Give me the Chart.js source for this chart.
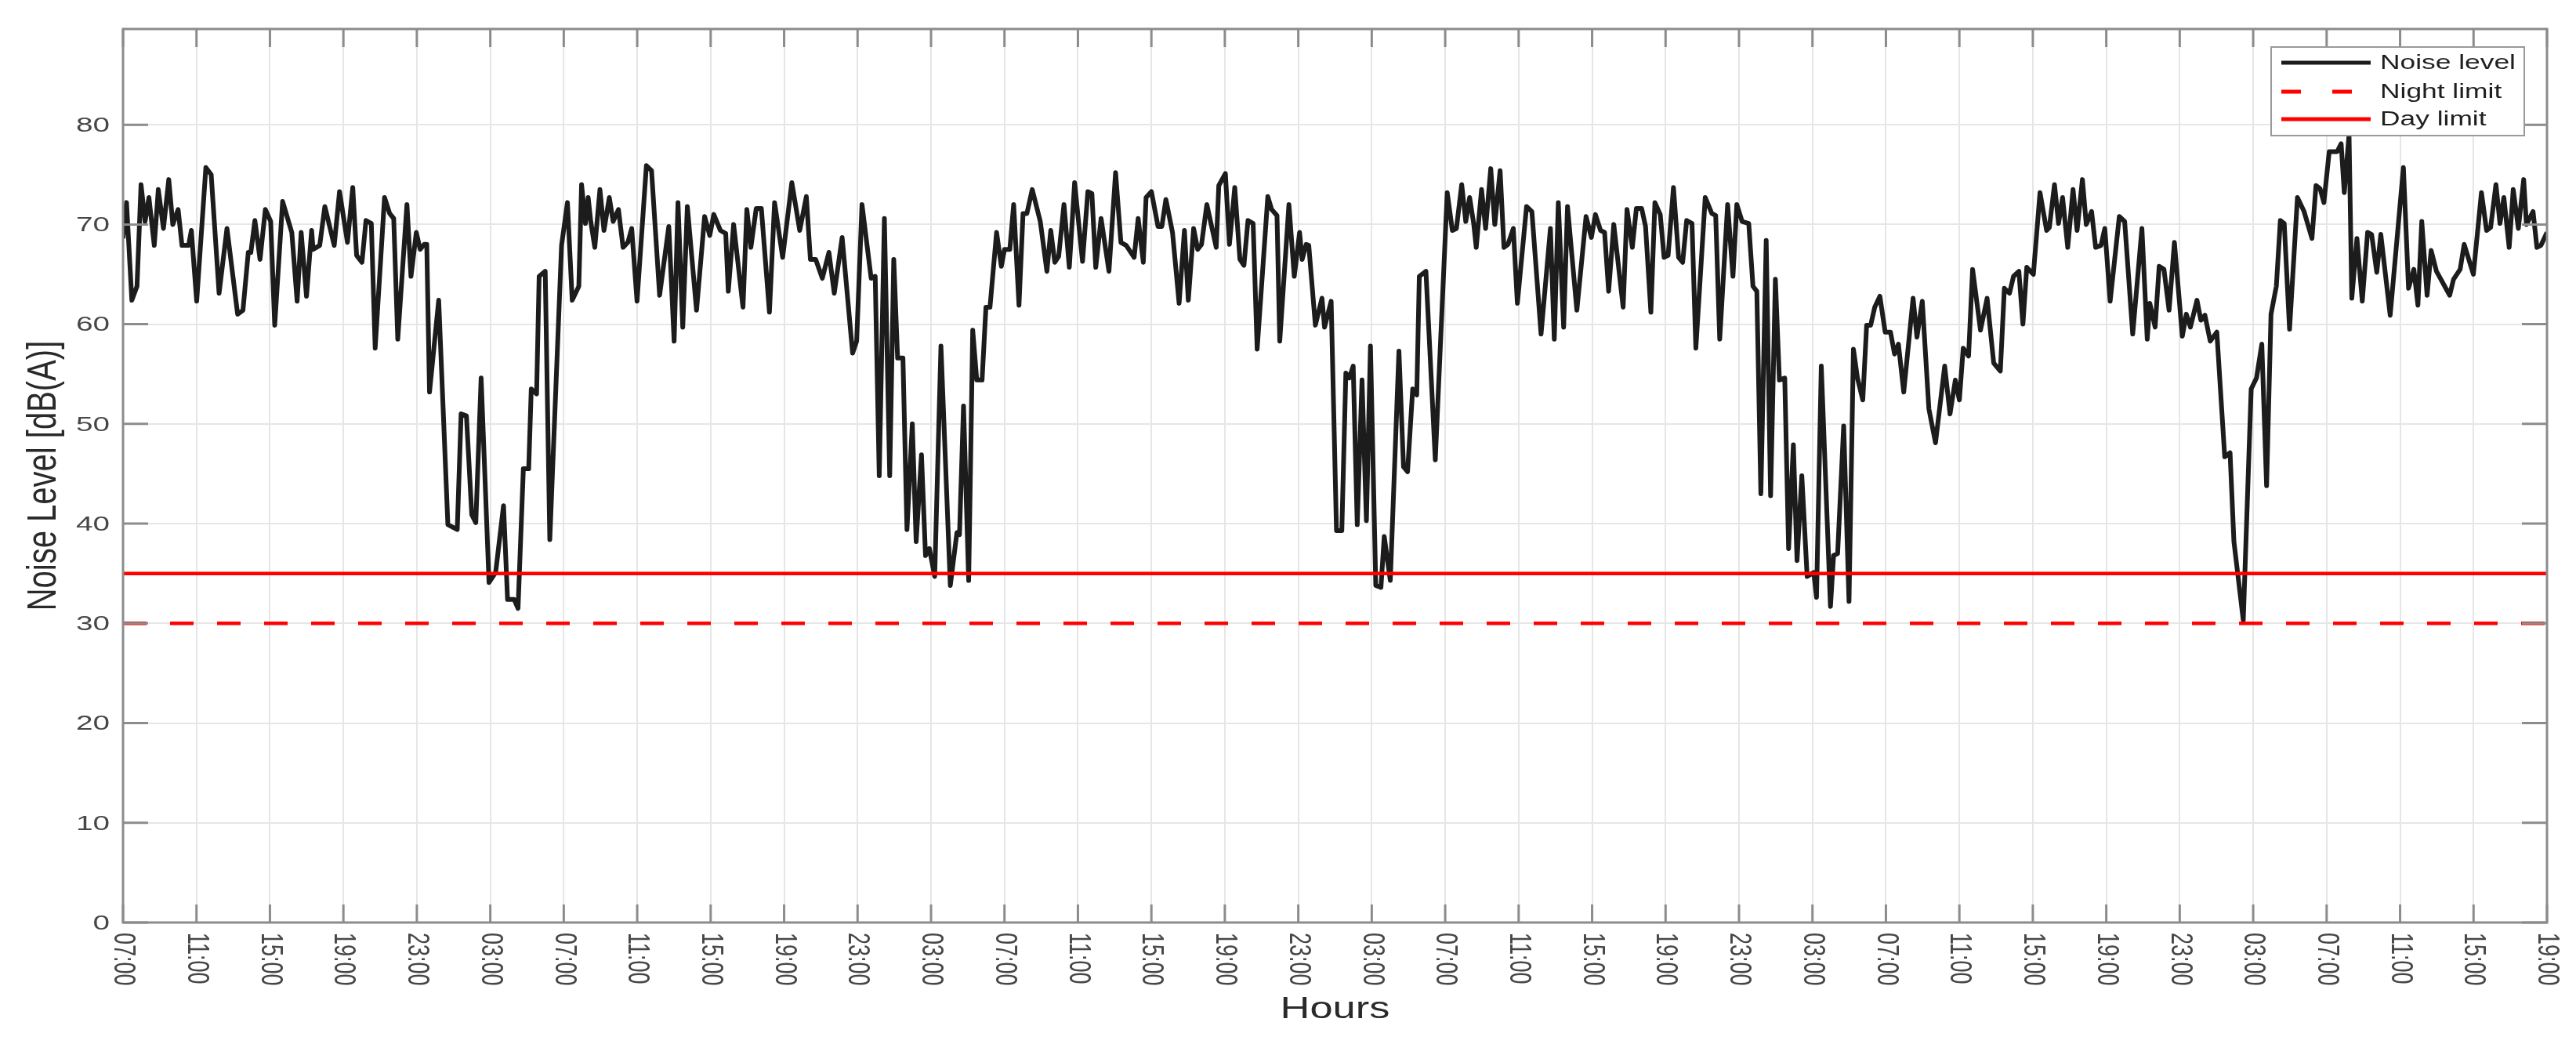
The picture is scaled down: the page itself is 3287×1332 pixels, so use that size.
<!DOCTYPE html>
<html>
<head>
<meta charset="utf-8">
<script src="https://cdn.jsdelivr.net/npm/chart.js@4.4.1/dist/chart.umd.min.js"></script>
<style>
html,body{margin:0;padding:0;background:#fff;}
#wrap{width:3287px;height:1332px;}
</style>
</head>
<body>
<div id="wrap"><canvas id="c" width="3287" height="1332"></canvas></div>
<script>
// ---- data ----
const tickLabels = [
  '07:00','11:00','15:00','19:00','23:00','03:00',
  '07:00','11:00','15:00','19:00','23:00','03:00',
  '07:00','11:00','15:00','19:00','23:00','03:00',
  '07:00','11:00','15:00','19:00','23:00','03:00',
  '07:00','11:00','15:00','19:00','23:00','03:00',
  '07:00','11:00','15:00','19:00'
];
const yTickValues = [0,10,20,30,40,50,60,70,80];
const xRange = [0, 132];          // hours from the first 07:00
const nightLimit = 30;
const dayLimit = 35;

// hours since start
const hours = [
0,0.19,0.48,0.76,0.98,1.20,1.41,1.70,1.92,2.20,2.49,2.71,3.00,3.21,3.57,3.72,4.01,4.51,4.80,5.23,
5.66,6.24,6.53,6.82,6.96,7.18,7.46,7.75,8.04,8.26,8.69,9.19,9.48,9.70,9.99,10.27,10.35,10.71,10.99,11.50,
11.79,12.22,12.51,12.72,13.01,13.23,13.52,13.73,14.24,14.52,14.74,14.96,15.46,15.68,15.97,16.18,16.40,16.54,16.69,17.19,
17.69,18.20,18.41,18.70,18.99,19.21,19.50,19.93,20.29,20.72,20.94,21.30,21.51,21.80,22.09,22.23,22.52,22.66,22.99,23.24,
23.88,24.20,24.46,24.82,24.97,25.18,25.33,25.47,25.69,25.97,26.19,26.48,26.69,26.98,27.23,27.49,27.70,27.99,28.50,28.78,
29.22,29.72,30.01,30.22,30.48,30.73,31.23,31.67,31.95,32.17,32.53,32.82,32.96,33.25,33.76,33.97,34.19,34.48,34.76,35.20,
35.48,35.92,36.42,36.85,37.21,37.43,37.72,38.08,38.44,38.73,39.16,39.73,39.95,40.24,40.74,40.96,41.18,41.46,41.75,41.97,
42.18,42.47,42.69,42.98,43.19,43.48,43.70,43.91,44.20,44.54,45.05,45.41,45.55,45.77,46.05,46.27,46.49,46.78,46.99,47.21,
47.57,47.83,48.00,48.29,48.50,48.79,49.01,49.22,49.51,49.95,50.31,50.52,50.74,50.95,51.24,51.53,51.82,52.25,52.54,52.76,
52.97,53.26,53.69,54.05,54.34,54.63,55.06,55.28,55.56,55.71,56.00,56.36,56.57,56.79,57.15,57.51,57.80,58.01,58.30,58.52,
58.73,59.02,59.53,59.67,60.03,60.25,60.54,60.82,61.04,61.26,61.54,61.76,62.34,62.55,62.84,62.99,63.49,63.78,64.07,64.21,
64.43,64.57,64.93,65.29,65.43,65.79,66.08,66.37,66.59,66.78,66.99,67.21,67.47,67.71,67.93,68.22,68.50,68.68,69.01,69.48,
69.73,69.95,70.23,70.45,70.59,70.95,71.46,72.11,72.39,72.61,72.90,73.12,73.33,73.55,73.69,73.98,74.20,74.48,74.70,74.99,
75.20,75.42,75.71,75.93,76.43,76.72,77.22,77.73,77.94,78.16,78.45,78.66,79.17,79.67,79.96,80.18,80.46,80.68,80.90,81.18,
81.69,81.90,82.19,82.41,82.70,82.91,83.20,83.42,83.71,83.92,84.14,84.43,84.71,84.93,85.15,85.44,85.65,86.16,86.52,86.73,
86.95,87.38,87.67,87.88,88.17,88.53,88.76,88.97,89.19,89.48,89.72,89.98,90.20,90.49,90.70,90.96,91.16,91.42,91.71,92.07,
92.22,92.48,92.98,93.15,93.37,93.70,93.99,94.23,94.45,94.74,94.95,95.17,95.39,95.67,95.96,96.25,96.47,96.68,96.97,97.48,
97.69,97.98,98.34,98.70,99.20,99.49,99.78,100.00,100.21,100.50,100.72,101.15,101.51,101.87,102.23,102.45,102.73,102.95,103.24,103.46,
103.67,104.03,104.39,104.75,104.90,105.18,105.40,105.62,105.90,106.19,106.41,106.70,106.91,107.20,107.42,107.71,107.92,108.21,108.71,109.00,
109.44,109.94,110.23,110.37,110.66,110.88,111.14,111.42,111.71,112.14,112.36,112.58,112.94,113.15,113.37,113.66,114.02,114.45,114.74,114.95,
115.46,115.89,116.18,116.47,116.73,116.97,117.26,117.48,117.69,117.98,118.41,118.77,119.20,119.42,119.64,119.85,120.14,120.57,120.79,120.96,
121.22,121.37,121.65,121.94,122.23,122.45,122.73,122.95,123.46,124.18,124.46,124.75,124.97,125.18,125.47,125.69,125.98,126.70,126.91,127.27,
127.49,127.99,128.43,128.71,128.93,129.22,129.44,129.65,129.94,130.16,130.44,130.73,130.88,131.24,131.45,131.67,132.00
];

// noise level dB(A)
const noiseLevel = [
68.6,72.2,62.4,63.8,74.0,70.3,72.7,67.9,73.5,69.6,74.5,70.0,71.5,67.9,67.9,69.4,62.3,75.7,75.0,63.1,
69.6,61.0,61.4,67.2,67.2,70.4,66.5,71.5,70.3,59.9,72.3,69.2,62.3,69.2,62.8,69.4,67.5,67.9,71.8,67.9,
73.3,68.2,73.7,66.9,66.2,70.4,70.1,57.6,72.7,71.1,70.6,58.5,72.0,64.8,69.2,67.5,68.0,68.0,53.2,62.4,
39.9,39.4,51.0,50.8,40.9,40.1,54.6,34.1,35.1,41.8,32.4,32.4,31.5,45.5,45.5,53.5,53.0,64.8,65.3,38.4,
67.9,72.2,62.4,63.8,74.0,70.1,72.7,70.3,67.7,73.5,69.4,72.7,70.3,71.5,67.7,68.2,69.6,62.3,75.9,75.4,
62.9,69.8,58.3,72.2,59.7,71.8,61.4,70.8,68.9,71.0,69.4,69.1,63.3,70.0,61.7,71.5,67.7,71.6,71.6,61.2,
72.2,66.7,74.2,69.4,72.8,66.5,66.5,64.6,67.2,63.1,68.7,57.1,58.3,72.0,64.6,64.8,44.8,70.6,44.8,66.5,
56.6,56.6,39.4,50.0,38.2,46.9,36.8,37.5,34.7,57.8,33.8,39.1,38.9,51.8,34.3,59.4,54.4,54.4,61.7,61.7,
69.2,65.8,67.5,67.5,72.0,61.9,71.1,71.1,73.5,70.3,65.3,69.4,66.2,66.8,72.0,65.7,74.2,66.3,73.3,73.1,
65.7,70.6,65.3,75.2,68.2,67.9,66.7,70.6,66.2,72.7,73.3,69.8,69.8,72.5,69.2,62.1,69.4,62.4,69.6,67.5,
68.0,72.0,67.7,73.9,75.1,68.0,73.7,66.5,65.9,70.4,70.1,57.5,72.8,71.5,70.9,58.3,72.0,64.8,69.2,66.5,
68.0,67.9,59.9,62.6,59.7,62.3,39.3,39.3,55.1,54.6,55.8,39.9,54.4,40.3,57.8,33.8,33.6,38.7,34.3,57.3,
45.7,45.2,53.5,52.9,64.8,65.3,46.4,73.2,69.4,69.6,74.0,70.3,72.7,70.1,67.7,73.5,69.6,75.6,70.0,75.4,
67.7,68.0,69.6,62.1,71.8,71.3,59.0,69.6,58.5,72.2,59.7,71.8,61.4,70.8,68.7,71.0,69.4,69.2,63.3,70.0,
61.7,71.5,67.7,71.6,71.6,69.8,61.2,72.2,71.0,66.7,66.9,73.7,66.7,66.2,70.4,70.1,57.6,72.7,71.1,70.9,
58.5,72.0,64.8,72.0,70.3,70.1,63.8,63.3,43.0,68.4,42.8,64.5,54.4,54.6,37.5,47.9,36.3,44.8,34.7,35.1,
32.6,55.8,31.7,36.8,37.0,49.8,32.2,57.5,54.6,52.4,59.9,59.9,61.7,62.8,59.2,59.2,57.0,58.0,53.2,62.6,
58.7,62.3,51.5,48.1,55.8,51.0,54.4,52.4,57.6,56.8,65.5,59.4,62.6,56.1,55.3,63.6,63.1,64.8,65.3,60.0,
65.7,65.0,73.2,69.4,69.7,74.0,70.1,72.7,67.7,73.5,69.4,74.5,70.0,71.3,67.7,67.9,69.6,62.3,70.8,70.3,
59.0,69.6,58.5,62.1,59.7,65.8,65.5,61.4,68.2,58.8,61.0,59.7,62.4,60.4,60.9,58.3,59.2,46.7,47.1,38.2,
30.3,53.5,54.6,58.0,43.8,61.0,63.8,70.4,70.1,59.5,72.7,71.3,68.6,73.9,73.6,72.2,77.3,77.3,78.1,73.2,
79.0,62.6,68.6,62.3,69.2,69.0,65.2,69.0,60.9,75.7,63.6,65.5,61.9,70.3,62.9,67.4,65.3,62.9,64.5,65.5,
68.0,65.0,73.2,69.4,69.7,74.0,70.1,72.7,67.7,73.5,69.6,74.5,70.0,71.3,67.7,67.9,69.2
];

const seriesNames = ['Noise level', 'Night limit', 'Day limit'];
const yTitle = 'Noise Level [dB(A)]';
const xTitle = 'Hours';

// ---- styling ----
const AXIS = '#8c8c8c';
const GRID = '#e6e6e6';
const TXT = '#474747';
const TITLE = '#2a2a2a';
const RED = '#ff0000';
const LINE = '#1c1c1c';
const SX = 1.42;

function stext(ctx, s, x, y, o) {
  ctx.save();
  ctx.translate(x, y);
  ctx.scale(o.sx || SX, 1);
  if (o.rot) ctx.rotate(o.rot);
  ctx.font = o.font;
  ctx.fillStyle = o.color || TXT;
  ctx.textAlign = o.align || 'left';
  ctx.textBaseline = o.base || 'middle';
  ctx.fillText(s, 0, 0);
  ctx.restore();
}

const deco = {
  id: 'deco',
  afterDraw(chart) {
    const ctx = chart.ctx, a = chart.chartArea, xs = chart.scales.x, ys = chart.scales.y;
    ctx.save();
    // axes box and inward ticks
    ctx.strokeStyle = AXIS;
    ctx.lineWidth = 3;
    ctx.strokeRect(a.left, a.top, a.right - a.left, a.bottom - a.top);
    ctx.beginPath();
    xs.ticks.forEach(t => {
      const p = xs.getPixelForValue(t.value);
      ctx.moveTo(p, a.bottom); ctx.lineTo(p, a.bottom - 23);
      ctx.moveTo(p, a.top); ctx.lineTo(p, a.top + 23);
    });
    ys.ticks.forEach(t => {
      const p = ys.getPixelForValue(t.value);
      ctx.moveTo(a.left, p); ctx.lineTo(a.left + 32, p);
      ctx.moveTo(a.right, p); ctx.lineTo(a.right - 32, p);
    });
    ctx.stroke();

    // x tick labels (rotated clockwise)
    xs.ticks.forEach((t, i) => {
      const p = xs.getPixelForValue(t.value);
      stext(ctx, tickLabels[i] || '', p, a.bottom + 13, {font: '27px "Liberation Sans", Arial, sans-serif', rot: Math.PI / 2, align: 'left', base: 'middle', sx: 1.45});
    });
    // y tick labels
    ys.ticks.forEach(t => {
      const p = ys.getPixelForValue(t.value);
      stext(ctx, String(t.value), a.left - 17, p + 2, {font: '25px "Liberation Sans", Arial, sans-serif', align: 'right', base: 'middle', sx: 1.55});
    });
    // axis titles
    stext(ctx, yTitle, 57, (a.top + a.bottom) / 2, {font: '40px "Liberation Sans", Arial, sans-serif', rot: -Math.PI / 2, align: 'center', base: 'middle', color: TITLE, sx: 1.3});
    stext(ctx, xTitle, (a.left + a.right) / 2, 1289, {font: '38px "Liberation Sans", Arial, sans-serif', align: 'center', base: 'middle', color: TITLE, sx: 1.38});

    // legend
    const L = {x: 2898, y: 60, w: 323, h: 113};
    ctx.fillStyle = '#ffffff';
    ctx.fillRect(L.x, L.y, L.w, L.h);
    ctx.strokeStyle = '#999999';
    ctx.lineWidth = 2;
    ctx.strokeRect(L.x, L.y, L.w, L.h);
    const rows = [80, 117, 152];
    const styles = [
      {c: LINE, w: 5, d: []},
      {c: RED, w: 5, d: [25, 40]},
      {c: RED, w: 5, d: []}
    ];
    rows.forEach((ry, i) => {
      ctx.beginPath();
      ctx.setLineDash(styles[i].d);
      ctx.strokeStyle = styles[i].c;
      ctx.lineWidth = styles[i].w;
      ctx.moveTo(2911, ry); ctx.lineTo(3025, ry);
      ctx.stroke();
      ctx.setLineDash([]);
      stext(ctx, seriesNames[i], 3037, ry + 1, {font: '26px "Liberation Sans", Arial, sans-serif', align: 'left', base: 'middle', color: '#1f1f1f', sx: 1.36});
    });
    ctx.restore();
  }
};

const noisePts = hours.map((h, i) => ({x: h, y: noiseLevel[i]}));
const nightPts = xRange.map(h => ({x: h, y: nightLimit}));
const dayPts = xRange.map(h => ({x: h, y: dayLimit}));

new Chart(document.getElementById('c'), {
  type: 'line',
  data: {
    datasets: [
      {label: seriesNames[0], data: noisePts, borderColor: LINE, borderWidth: 6, pointRadius: 0, tension: 0, fill: false, order: 3, borderJoinStyle: 'round'},
      {label: seriesNames[1], data: nightPts, borderColor: RED, borderWidth: 4.5, borderDash: [30, 30], pointRadius: 0, fill: false, order: 2},
      {label: seriesNames[2], data: dayPts, borderColor: RED, borderWidth: 4.5, pointRadius: 0, fill: false, order: 1}
    ]
  },
  options: {
    responsive: false,
    animation: false,
    devicePixelRatio: 1,
    layout: {padding: {left: 157, right: 37, top: 37, bottom: 155}},
    plugins: {legend: {display: false}, tooltip: {enabled: false}},
    scales: {
      x: {
        type: 'linear', min: xRange[0], max: xRange[1],
        ticks: {display: false, stepSize: 4},
        grid: {color: GRID, lineWidth: 2, drawTicks: false},
        border: {display: false}
      },
      y: {
        min: 0, max: 89.6,
        afterBuildTicks: s => { s.ticks = yTickValues.map(v => ({value: v})); },
        ticks: {display: false},
        grid: {color: GRID, lineWidth: 2, drawTicks: false},
        border: {display: false}
      }
    }
  },
  plugins: [deco]
});
</script>
</body>
</html>
